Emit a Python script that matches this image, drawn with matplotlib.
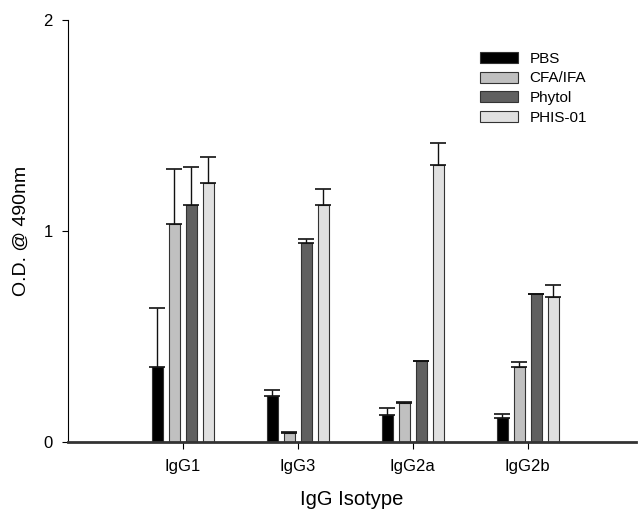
"""IgG isotype O.D. bar chart (SigmaPlot-style grouped bars with upper error bars)."""

import numpy as np
import matplotlib
matplotlib.use('Agg')
import matplotlib.pyplot as plt

plt.rcParams['font.family'] = ['Liberation Sans', 'DejaVu Sans']

isotypes = ['IgG1', 'IgG3', 'IgG2a', 'IgG2b']
groups   = ['PBS', 'CFA/IFA', 'Phytol', 'PHIS-01']

pbs      = [0.355, 0.220, 0.130, 0.112]
pbs_err  = [0.278, 0.025, 0.033, 0.022]
cfa      = [1.035, 0.043, 0.187, 0.357]
cfa_err  = [0.259, 0.003, 0.003, 0.021]
phytol   = [1.122, 0.943, 0.382, 0.700]
phyt_err = [0.183, 0.020, 0.003, 0.002]
phis     = [1.229, 1.122, 1.311, 0.689]
phis_err = [0.120, 0.078, 0.105, 0.054]

values = [pbs, cfa, phytol, phis]
errors = [pbs_err, cfa_err, phyt_err, phis_err]
colors = ['#000000', '#c0c0c0', '#606060', '#e0e0e0']


def main():
    fig = plt.figure(figsize=(6.39, 5.12), dpi=100)
    ax = fig.add_axes([0.1064, 0.1367, 0.8886, 0.8243])

    x = np.arange(1, len(isotypes) + 1)
    step, width = 0.148, 0.092
    for k, (vals, errs, c) in enumerate(zip(values, errors, colors)):
        xs = x + (k - 1.5) * step
        ax.bar(xs, vals, width=width, color=c, edgecolor='#333333',
               linewidth=0.8, label=groups[k], zorder=2)
        ax.errorbar(xs, vals, yerr=[np.zeros(len(errs)), errs], fmt='none',
                    ecolor='#111111', elinewidth=1.0, capsize=5.5,
                    capthick=1.2, zorder=3)

    ax.set_xlim(0, 4.94)
    ax.set_ylim(0, 2)
    ax.set_yticks([0, 1, 2])
    ax.set_xticks(x)
    ax.set_xticklabels(isotypes)

    for s in ('top', 'right'):
        ax.spines[s].set_visible(False)
    ax.spines['left'].set_linewidth(0.8)
    ax.spines['bottom'].set_linewidth(2.0)
    ax.spines['bottom'].set_color('#333333')

    ax.tick_params(axis='y', direction='out', length=4, width=0.8,
                   pad=7, labelsize=12)
    ax.tick_params(axis='x', direction='out', length=5, width=0.8,
                   pad=7, labelsize=12)

    ax.set_xlabel('IgG Isotype', fontsize=14.5, labelpad=12)
    ax.set_ylabel('O.D. @ 490nm', fontsize=14, labelpad=10)

    ax.legend(loc='upper left', bbox_to_anchor=(0.725, 0.925), frameon=False,
              fontsize=11, handlelength=2.5, handleheight=0.72,
              labelspacing=0.38, handletextpad=0.75,
              borderpad=0, borderaxespad=0)

    fig.savefig('out.png', dpi=100)


if __name__ == '__main__':
    main()
